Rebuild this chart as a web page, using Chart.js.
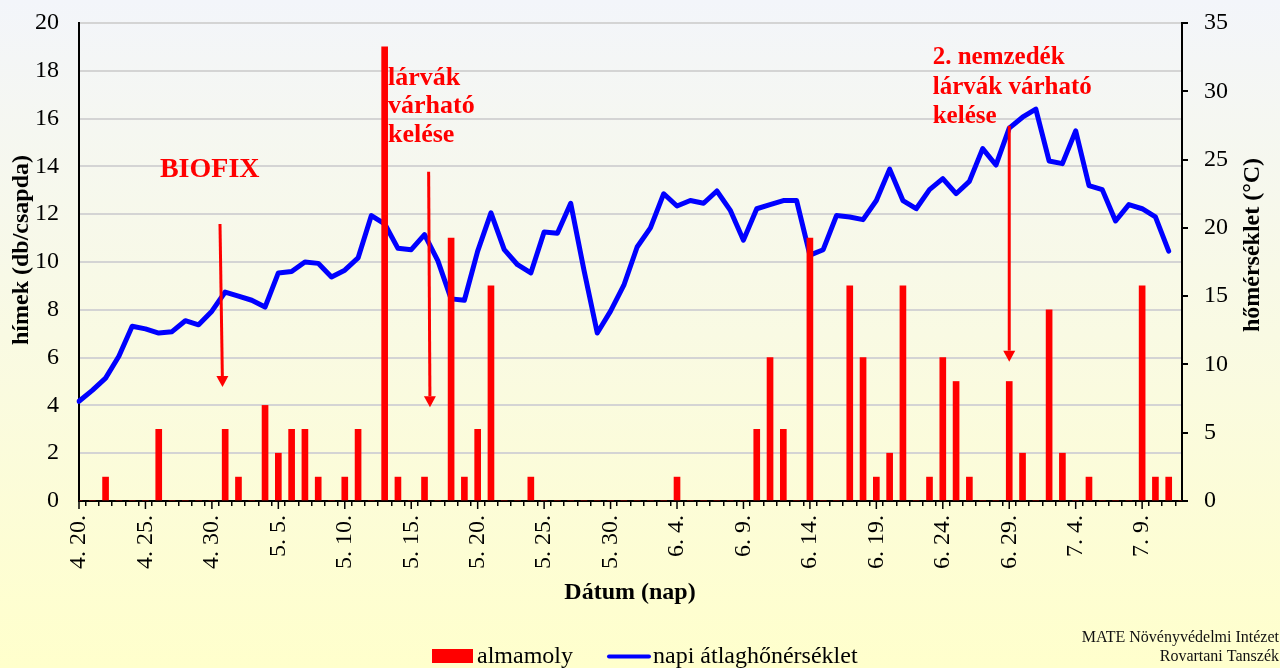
<!DOCTYPE html>
<html><head><meta charset="utf-8">
<script src="https://cdn.jsdelivr.net/npm/chart.js@4.4.1/dist/chart.umd.min.js"></script>
<style>html,body{margin:0;padding:0;background:#fff;} canvas{display:block;}</style>
</head><body>
<canvas id="c" width="1280" height="668"></canvas>
<script>
// ---- data ----
const categories = [
 '4. 20.','4. 21.','4. 22.','4. 23.','4. 24.','4. 25.','4. 26.','4. 27.','4. 28.','4. 29.','4. 30.',
 '5. 1.','5. 2.','5. 3.','5. 4.','5. 5.','5. 6.','5. 7.','5. 8.','5. 9.','5. 10.',
 '5. 11.','5. 12.','5. 13.','5. 14.','5. 15.','5. 16.','5. 17.','5. 18.','5. 19.','5. 20.',
 '5. 21.','5. 22.','5. 23.','5. 24.','5. 25.','5. 26.','5. 27.','5. 28.','5. 29.','5. 30.','5. 31.',
 '6. 1.','6. 2.','6. 3.','6. 4.','6. 5.','6. 6.','6. 7.','6. 8.','6. 9.','6. 10.',
 '6. 11.','6. 12.','6. 13.','6. 14.','6. 15.','6. 16.','6. 17.','6. 18.','6. 19.','6. 20.',
 '6. 21.','6. 22.','6. 23.','6. 24.','6. 25.','6. 26.','6. 27.','6. 28.','6. 29.','6. 30.',
 '7. 1.','7. 2.','7. 3.','7. 4.','7. 5.','7. 6.','7. 7.','7. 8.','7. 9.','7. 10.','7. 11.','7. 12.'
];
const tickLabels = ['4. 20.','4. 25.','4. 30.','5. 5.','5. 10.','5. 15.','5. 20.','5. 25.','5. 30.',
 '6. 4.','6. 9.','6. 14.','6. 19.','6. 24.','6. 29.','7. 4.','7. 9.'];
// hímek (db/csapda) – almamoly
const almamoly = [
 0,0,1,0,0,0,3,0,0,0,0,
 3,1,0,4,2,3,3,1,0,1,
 3,0,19,1,0,1,0,11,1,3,
 9,0,0,1,0,0,0,0,0,0,0,
 0,0,0,1,0,0,0,0,0,3,
 6,3,0,11,0,0,9,6,1,2,
 9,0,1,6,5,1,0,0,5,2,
 0,8,2,0,1,0,0,0,9,1,1,0
];
// napi átlaghőmérséklet (°C)
const napiAtlag = [
 7.3,8.1,9.0,10.6,12.8,12.6,12.3,12.4,13.2,12.9,13.9,
 15.3,15.0,14.7,14.2,16.7,16.8,17.5,17.4,16.4,16.9,
 17.8,20.9,20.3,18.5,18.4,19.5,17.6,14.8,14.7,18.3,
 21.1,18.4,17.3,16.7,19.7,19.6,21.8,16.9,12.3,13.9,15.8,
 18.6,20.0,22.5,21.6,22.0,21.8,22.7,21.3,19.1,21.4,
 21.7,22.0,22.0,18.0,18.4,20.9,20.8,20.6,22.0,24.3,
 22.0,21.4,22.8,23.6,22.5,23.4,25.8,24.6,27.3,28.1,
 28.7,24.9,24.7,27.1,23.1,22.8,20.5,21.7,21.4,20.8,18.3,null
];
const leftTicks = {min:0, max:20, step:2};
const rightTicks = {min:0, max:35, step:5};

// annotations (in data units: category index / left-axis value)
const noteTexts = [
 {lines:['BIOFIX'], xi:6.09, yv:13.56, size:28, lh:0},
 {lines:['lárvák','várható','kelése'], xi:23.25, yv:17.41, size:26, lh:28.3},
 {lines:['2. nemzedék','lárvák várható','kelése'], xi:64.24, yv:18.27, size:25, lh:29.5}
];
const noteArrows = [
 {x1:10.61, y1:11.59, x2:10.80, y2:4.77},
 {x1:26.31, y1:13.78, x2:26.41, y2:3.92},
 {x1:70.0, y1:15.70, x2:70.0, y2:5.83}
];

const FONT = '"Liberation Serif", "Times New Roman", serif';
const RED = '#FF0000', BLUE = '#0000FF';

const bgPlugin = {
  id:'bg',
  beforeDraw(chart){
    const {ctx,width,height} = chart;
    const g = ctx.createLinearGradient(0,0,0,height);
    g.addColorStop(0,'#F3F5FA');
    g.addColorStop(1,'#FFFFCC');
    ctx.save(); ctx.fillStyle=g; ctx.fillRect(0,0,width,height); ctx.restore();
  }
};

const notesPlugin = {
  id:'notes',
  afterDraw(chart){
    const {ctx, scales:{x,y}} = chart;
    ctx.save();
    // major tick extension on x axis
    ctx.strokeStyle='#000'; ctx.lineWidth=1.5;
    categories.forEach((c,i)=>{
      if (tickLabels.includes(c)) {
        const px = x.getPixelForValue(i);
        ctx.beginPath(); ctx.moveTo(px, y.bottom); ctx.lineTo(px, y.bottom+8); ctx.stroke();
      }
    });
    // annotation texts
    ctx.fillStyle=RED; ctx.textAlign='left'; ctx.textBaseline='alphabetic';
    noteTexts.forEach(n=>{
      ctx.font = 'bold '+n.size+'px '+FONT;
      const px = x.getPixelForValue(n.xi), py = y.getPixelForValue(n.yv);
      n.lines.forEach((t,k)=> ctx.fillText(t, px, py + k*n.lh));
    });
    // arrows
    ctx.strokeStyle=RED; ctx.lineWidth=3;
    noteArrows.forEach(a=>{
      const X1=x.getPixelForValue(a.x1), Y1=y.getPixelForValue(a.y1);
      const X2=x.getPixelForValue(a.x2), Y2=y.getPixelForValue(a.y2);
      const ang=Math.atan2(Y2-Y1,X2-X1), hl=11, hw=6;
      const bx=X2-Math.cos(ang)*hl, by=Y2-Math.sin(ang)*hl;
      ctx.beginPath(); ctx.moveTo(X1,Y1); ctx.lineTo(bx,by); ctx.stroke();
      ctx.beginPath(); ctx.moveTo(X2,Y2);
      ctx.lineTo(bx+Math.sin(ang)*hw, by-Math.cos(ang)*hw);
      ctx.lineTo(bx-Math.sin(ang)*hw, by+Math.cos(ang)*hw);
      ctx.closePath(); ctx.fill();
    });
    // axis titles
    ctx.fillStyle='#000'; ctx.textAlign='center'; ctx.textBaseline='middle';
    ctx.font='bold 24px '+FONT;
    ctx.save(); ctx.translate(22,250); ctx.rotate(-Math.PI/2); ctx.fillText('hímek (db/csapda)',0,0); ctx.restore();
    ctx.save(); ctx.translate(1253,245); ctx.rotate(-Math.PI/2); ctx.fillText('hőmérséklet (°C)',0,0); ctx.restore();
    ctx.fillText('Dátum (nap)', 630, 593);
    // legend
    ctx.textAlign='left'; ctx.textBaseline='alphabetic';
    ctx.font='24px '+FONT;
    ctx.fillStyle=RED; ctx.fillRect(432,649,41,14);
    ctx.fillStyle='#000'; ctx.fillText(chart.data.datasets[0].label, 477, 663);
    ctx.strokeStyle=BLUE; ctx.lineWidth=4; ctx.lineCap='round';
    ctx.beginPath(); ctx.moveTo(609,656.5); ctx.lineTo(649,656.5); ctx.stroke();
    ctx.fillStyle='#000'; ctx.fillText(chart.data.datasets[1].label, 653, 663);
    // credits
    ctx.textAlign='right'; ctx.font='16px '+FONT; ctx.fillStyle='#111';
    ctx.fillText('MATE Növényvédelmi Intézet', 1279, 642);
    ctx.fillText('Rovartani Tanszék', 1279, 661);
    ctx.restore();
  }
};

new Chart(document.getElementById('c'), {
  data:{
    labels: categories,
    datasets:[
      {type:'bar', label:'almamoly', data:almamoly, backgroundColor:RED, borderWidth:0, barThickness:6, yAxisID:'y', order:0},
      {type:'line', label:'napi átlaghőnérséklet', data:napiAtlag, borderColor:BLUE, backgroundColor:BLUE, borderWidth:5,
       pointRadius:0, tension:0, yAxisID:'y1', order:1, borderJoinStyle:'round', borderCapStyle:'round', fill:false}
    ]
  },
  options:{
    responsive:false, animation:false, devicePixelRatio:1,
    layout:{padding:{top:23,left:0,right:0,bottom:0}},
    plugins:{legend:{display:false}, tooltip:{enabled:false}},
    scales:{
      x:{
        type:'category', offset:false,
        grid:{drawOnChartArea:false, drawTicks:true, tickLength:5, color:'#000', lineWidth:1.5},
        border:{display:true, color:'#000', width:2},
        ticks:{autoSkip:false, maxRotation:90, minRotation:90, padding:9, color:'#000',
          font:{family:FONT, size:24},
          callback(v,i){ const l=categories[i]; return tickLabels.includes(l) ? l : ''; }},
        afterFit(s){ s.height = 167; s.paddingLeft = 0; s.paddingRight = 0; }
      },
      y:{
        position:'left', min:leftTicks.min, max:leftTicks.max,
        ticks:{stepSize:leftTicks.step, padding:20, color:'#000', font:{family:FONT, size:24}},
        grid:{color:(c)=> (c.tick && c.tick.value===0) ? 'rgba(0,0,0,0)' : '#D4D4D4', lineWidth:2, drawTicks:false},
        border:{color:'#000', width:2},
        afterFit(s){ s.width = 79; s.paddingTop = 0; s.paddingBottom = 0; }
      },
      y1:{
        position:'right', min:rightTicks.min, max:rightTicks.max,
        ticks:{stepSize:rightTicks.step, padding:16, color:'#000', font:{family:FONT, size:24}},
        grid:{drawOnChartArea:false, color:'#000', lineWidth:2, tickLength:6},
        border:{color:'#000', width:2},
        afterFit(s){ s.width = 98; s.paddingTop = 0; s.paddingBottom = 0; }
      }
    }
  },
  plugins:[bgPlugin, notesPlugin]
});
</script>
</body></html>
